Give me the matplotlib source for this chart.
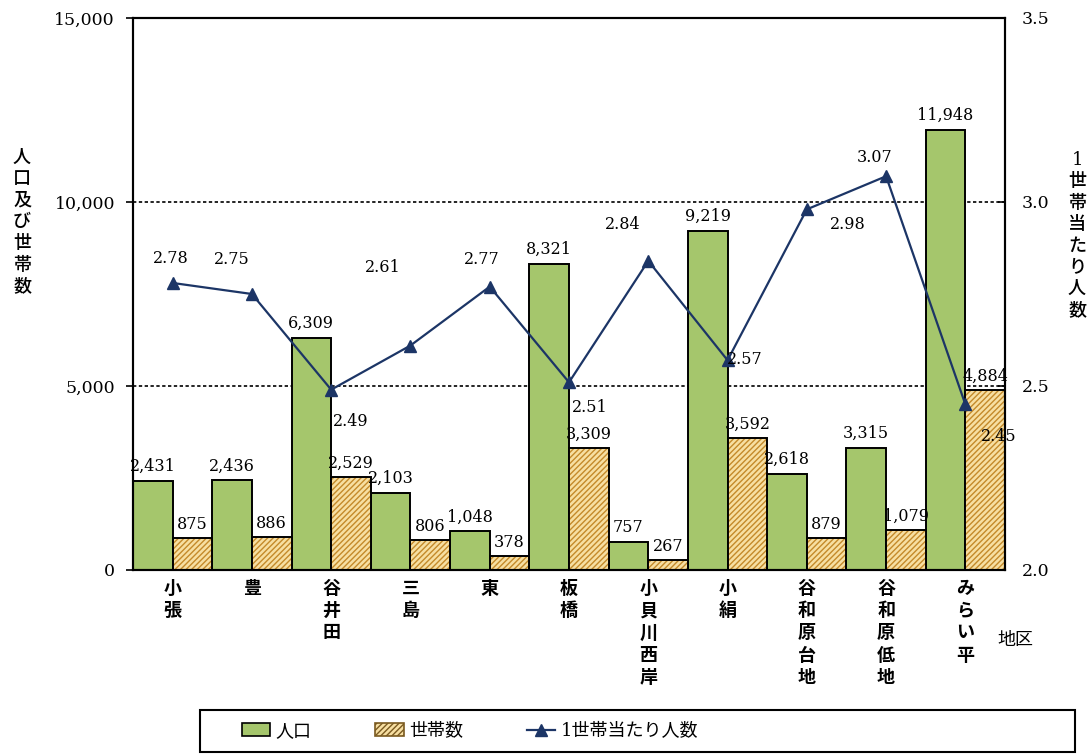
import matplotlib
matplotlib.use("Agg")
import matplotlib.pyplot as plt
from matplotlib.patches import Patch, Rectangle
from matplotlib.lines import Line2D
from matplotlib.ticker import FuncFormatter

plt.rcParams['font.family'] = ['DejaVu Serif', 'Noto Sans CJK JP']
plt.rcParams['hatch.linewidth'] = 1.0

# data
districts = ['小張', '豊', '谷井田', '三島', '東', '板橋', '小貝川西岸', '小絹', '谷和原台地', '谷和原低地', 'みらい平']
population = [2431, 2436, 6309, 2103, 1048, 8321, 757, 9219, 2618, 3315, 11948]
households = [875, 886, 2529, 806, 378, 3309, 267, 3592, 879, 1079, 4884]
per_household = [2.78, 2.75, 2.49, 2.61, 2.77, 2.51, 2.84, 2.57, 2.98, 3.07, 2.45]

# label offsets for the line values (pixels)
line_lbl_off = [(-2, 24), (-20, 34), (20, -32), (-28, 78), (-8, 27), (21, -25),
                (-26, 36), (17, 1), (41, -15), (-11, 19), (33, -32)]

green = '#a5c66c'
yellow = '#f7dfa2'
navy = '#1c3566'

fig = plt.figure(figsize=(10.92, 7.55), dpi=100)
fig.patch.set_facecolor('white')
ax = fig.add_axes([133/1092, 1-570/755, 872/1092, 552/755])
ax2 = ax.twinx()

n = len(districts)
xs = list(range(n))
w = 0.5

ax.bar([x - w/2 for x in xs], population, width=w, color=green, edgecolor='black', linewidth=1.4, zorder=2)
ax.bar([x + w/2 for x in xs], households, width=w, color=yellow, edgecolor='#c48a2a', linewidth=0,
       hatch='//////', zorder=2)
ax.bar([x + w/2 for x in xs], households, width=w, color='none', edgecolor='black', linewidth=1.4, zorder=2)

for x, v in zip(xs, population):
    ax.annotate(f'{v:,}', (x - w/2, v), xytext=(0, 6), textcoords='offset pixels',
                ha='center', va='bottom', fontsize=11.5, zorder=5)
for x, v in zip(xs, households):
    ax.annotate(f'{v:,}', (x + w/2, v), xytext=(0, 5), textcoords='offset pixels',
                ha='center', va='bottom', fontsize=11.5, zorder=5)

for yv in (5000, 10000):
    ax.axhline(yv, color='black', linestyle=(0, (2, 1.5)), linewidth=1.2, zorder=1)

ax.set_xlim(-0.5, n - 0.5)
ax.set_ylim(0, 15000)
ax.set_yticks([0, 5000, 10000, 15000])
ax.yaxis.set_major_formatter(FuncFormatter(lambda v, p: f'{int(v):,}'))
ax.set_xticks([])
ax.tick_params(axis='y', direction='out', length=5, width=1.2, labelsize=12.5, pad=8)

ax2.plot(xs, per_household, color=navy, linewidth=1.6, marker='^', markersize=9,
         markerfacecolor=navy, markeredgecolor=navy, zorder=6)
ax2.set_ylim(2.0, 3.5)
ax2.set_yticks([2.0, 2.5, 3.0, 3.5])
ax2.yaxis.set_major_formatter(FuncFormatter(lambda v, p: f'{v:.1f}'))
ax2.tick_params(axis='y', direction='in', length=5, width=1.2, labelsize=12.5, pad=12)
for x, v, off in zip(xs, per_household, line_lbl_off):
    ax2.annotate(f'{v:.2f}', (x, v), xytext=off, textcoords='offset pixels',
                 ha='center', va='center', fontsize=11.5, zorder=7)

for a in (ax, ax2):
    for s in a.spines.values():
        s.set_linewidth(1.5)

# category labels (vertical)
for x, name in zip(xs, districts):
    ax.text(x, -0.018, '\n'.join(name), transform=ax.get_xaxis_transform(),
            ha='center', va='top', fontsize=13, fontweight='bold', linespacing=1.3)

fig.text(1015/1092, 1-640/755, '地区', ha='center', va='center', fontsize=13)
fig.text(22/1092, 1-222/755, '\n'.join('人口及び世帯数'), ha='center', va='center',
         fontsize=13, fontweight='medium', linespacing=1.25)
fig.text(1077/1092, 1-235/755, '\n'.join(['1'] + list('世帯当たり人数')), ha='center', va='center',
         fontsize=13, fontweight='medium', linespacing=1.25)

# legend
fig.patches.append(Rectangle((200/1092, 1-752/755), 875/1092, 42/755, transform=fig.transFigure,
                             facecolor='white', edgecolor='black', linewidth=1.5))
handles = [Patch(facecolor=green, edgecolor='black', linewidth=1.2),
           Patch(facecolor=yellow, edgecolor='#7a5a20', hatch='//////', linewidth=1.2),
           Line2D([], [], color=navy, marker='^', markersize=9, linewidth=1.6)]
fig.legend(handles, ['人口', '世帯数', '1世帯当たり人数'], loc='center', ncol=3,
           bbox_to_anchor=(470/1092, 1-731/755), frameon=False, fontsize=13,
           columnspacing=3.5, handlelength=1.6, handletextpad=0.3)

fig.savefig('out.png', dpi=100, facecolor='white')
